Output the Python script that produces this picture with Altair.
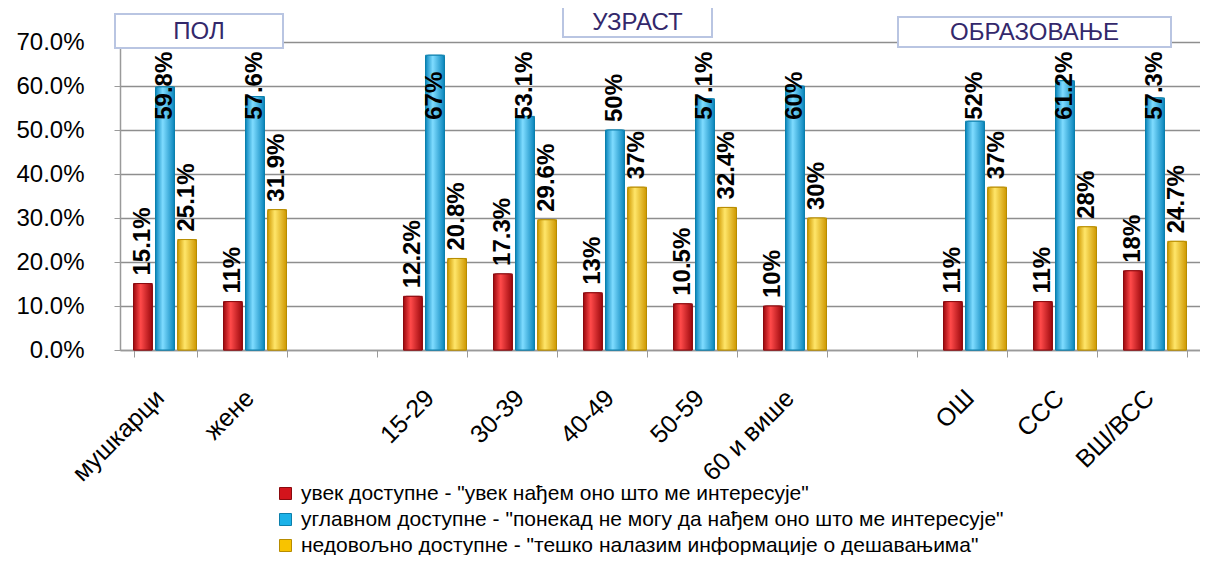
import altair as alt
import pandas as pd

# ---------------- data ----------------
categories = ["мушкарци", "жене", " ", "15-29", "30-39", "40-49", "50-59",
              "60 и више", "  ", "ОШ", "ССС", "ВШ/ВСС"]
groups = ["мушкарци", "жене", "15-29", "30-39", "40-49", "50-59",
          "60 и више", "ОШ", "ССС", "ВШ/ВСС"]
series = [
    'увек доступне - "увек нађем оно што ме интересује"',
    'углавном доступне - "понекад не могу да нађем оно што ме интересује"',
    'недовољно доступне - "тешко налазим информације о дешавањима"',
]
always = [15.1, 11, 12.2, 17.3, 13, 10.5, 10, 11, 11, 18]
mostly = [59.8, 57.6, 67, 53.1, 50, 57.1, 60, 52, 61.2, 57.3]
insufficient = [25.1, 31.9, 20.8, 29.6, 37, 32.4, 30, 37, 28, 24.7]
always_lbl = ["15.1%", "11%", "12.2%", "17.3%", "13%", "10.5%", "10%", "11%", "11%", "18%"]
mostly_lbl = ["59.8%", "57.6%", "67%", "53.1%", "50%", "57.1%", "60%", "52%", "61.2%", "57.3%"]
insuff_lbl = ["25.1%", "31.9%", "20.8%", "29.6%", "37%", "32.4%", "30%", "37%", "28%", "24.7%"]
headers = ["ПОЛ", "УЗРАСТ", "ОБРАЗОВАЊЕ"]

colors = ["#d3141c", "#1cb2e8", "#f8c300"]
strokes = ["#8a0a0f", "#0c7fab", "#b78c00"]
# cylinder-like shading: (edge, highlight)
shades = [("#9c080d", "#ff4a4a"), ("#0b86bd", "#7fdcff"), ("#cf9800", "#ffe66a")]

rows = []
for s, vals, lbls in zip(series, [always, mostly, insufficient],
                         [always_lbl, mostly_lbl, insuff_lbl]):
    for g, v, l in zip(groups, vals, lbls):
        rows.append({"group": g, "series": s, "value": v / 100.0, "label": l})
df = pd.DataFrame(rows)

FONT = "Liberation Sans"

x_enc = alt.X("group:N", sort=categories,
              scale=alt.Scale(domain=categories, paddingInner=0.3, paddingOuter=0.15),
              axis=alt.Axis(title=None, labelAngle=-45, labelFontSize=25,
                            labelColor="#000000", labelFont=FONT,
                            tickBand="extent", ticks=True, tickSize=7,
                            tickColor="#9a9a9a", domainColor="#9a9a9a",
                            domainWidth=1.5, labelPadding=28, labelOffset=-14,
                            labelLimit=0))
xo_enc = alt.XOffset("series:N", sort=series,
                     scale=alt.Scale(domain=series, paddingInner=0.15))
color_enc = alt.Color("series:N", sort=series,
                      scale=alt.Scale(domain=series, range=colors),
                      legend=alt.Legend(title=None, orient="none", legendX=155,
                                        legendY=441, direction="vertical",
                                        symbolType="square", symbolSize=144,
                                        symbolStrokeWidth=1, labelFontSize=21,
                                        labelFont=FONT, labelColor="#000000",
                                        labelLimit=0, rowPadding=4,
                                        labelOffset=5, padding=0))

base = alt.Chart(df)

y_enc = alt.Y("value:Q", stack=None,
              scale=alt.Scale(domain=[0, 0.7], nice=False),
              axis=alt.Axis(title=None, format=".1%", values=[0, .1, .2, .3, .4, .5, .6, .7],
                            labelFontSize=24, labelFont=FONT, labelColor="#000000",
                            gridColor="#8e8e8e", gridWidth=1.5, tickColor="#9a9a9a",
                            tickSize=6, domainColor="#9a9a9a", domainWidth=1.5,
                            labelPadding=30))

bars = base.mark_bar(strokeWidth=1).encode(
    x=x_enc,
    xOffset=xo_enc,
    y=y_enc,
    color=color_enc,
    stroke=alt.Stroke("series:N", sort=series,
                      scale=alt.Scale(domain=series, range=strokes), legend=None),
)

shade_layers = []
for s, (edge, hi), st in zip(series, shades, strokes):
    grad = alt.LinearGradient(
        gradient="linear", x1=0, x2=1, y1=0, y2=0,
        stops=[alt.GradientStop(color=edge, offset=0),
               alt.GradientStop(color=hi, offset=0.38),
               alt.GradientStop(color=edge, offset=1)])
    shade_layers.append(
        base.transform_filter(alt.datum.series == s).mark_bar(
            fill=grad, stroke=st, strokeWidth=1, cornerRadiusTopLeft=3,
            cornerRadiusTopRight=3).encode(
            x=alt.X("group:N", sort=categories),
            xOffset=alt.XOffset("series:N", sort=series),
            y=alt.Y("value:Q", stack=None),
        )
    )

labels = base.transform_calculate(
    anchor="min(datum.value, 0.505)"
).mark_text(angle=270, align="left", baseline="middle", dx=8,
            fontSize=24, fontWeight="bold", font=FONT, color="#000000").encode(
    x=alt.X("group:N", sort=categories),
    xOffset=alt.XOffset("series:N", sort=series),
    y=alt.Y("anchor:Q"),
    text="label:N",
)

# section header boxes (annotation layout, pixel positions)
box_layout = [(-5, 163, -28, 6), (443, 592, -36, -5), (778, 1051, -25, 5)]
annots = []
for h, (x0, x1, y0, y1) in zip(headers, box_layout):
    hd = pd.DataFrame({"h": [h]})
    annots.append(alt.Chart(hd).mark_rect(fill="#ffffff", stroke="#b9c5e2",
                                          strokeWidth=2).encode(
        x=alt.value(x0), x2=alt.value(x1), y=alt.value(y0), y2=alt.value(y1)))
    annots.append(alt.Chart(hd).mark_text(fontSize=24, font=FONT, color="#33286b",
                                          align="center", baseline="middle").encode(
        x=alt.value((x0 + x1) / 2), y=alt.value((y0 + y1) / 2 + 1), text="h:N"))

chart = alt.layer(bars, *shade_layers, labels, *annots).properties(
    width=1080, height=308,
    padding={"left": 112, "top": 34, "right": 0, "bottom": 205},
    autosize=alt.AutoSizeParams(type="none"),
).configure_view(stroke=None).configure(background="#ffffff")

chart.save("out.html", embed_options={"renderer": "svg", "actions": False})
